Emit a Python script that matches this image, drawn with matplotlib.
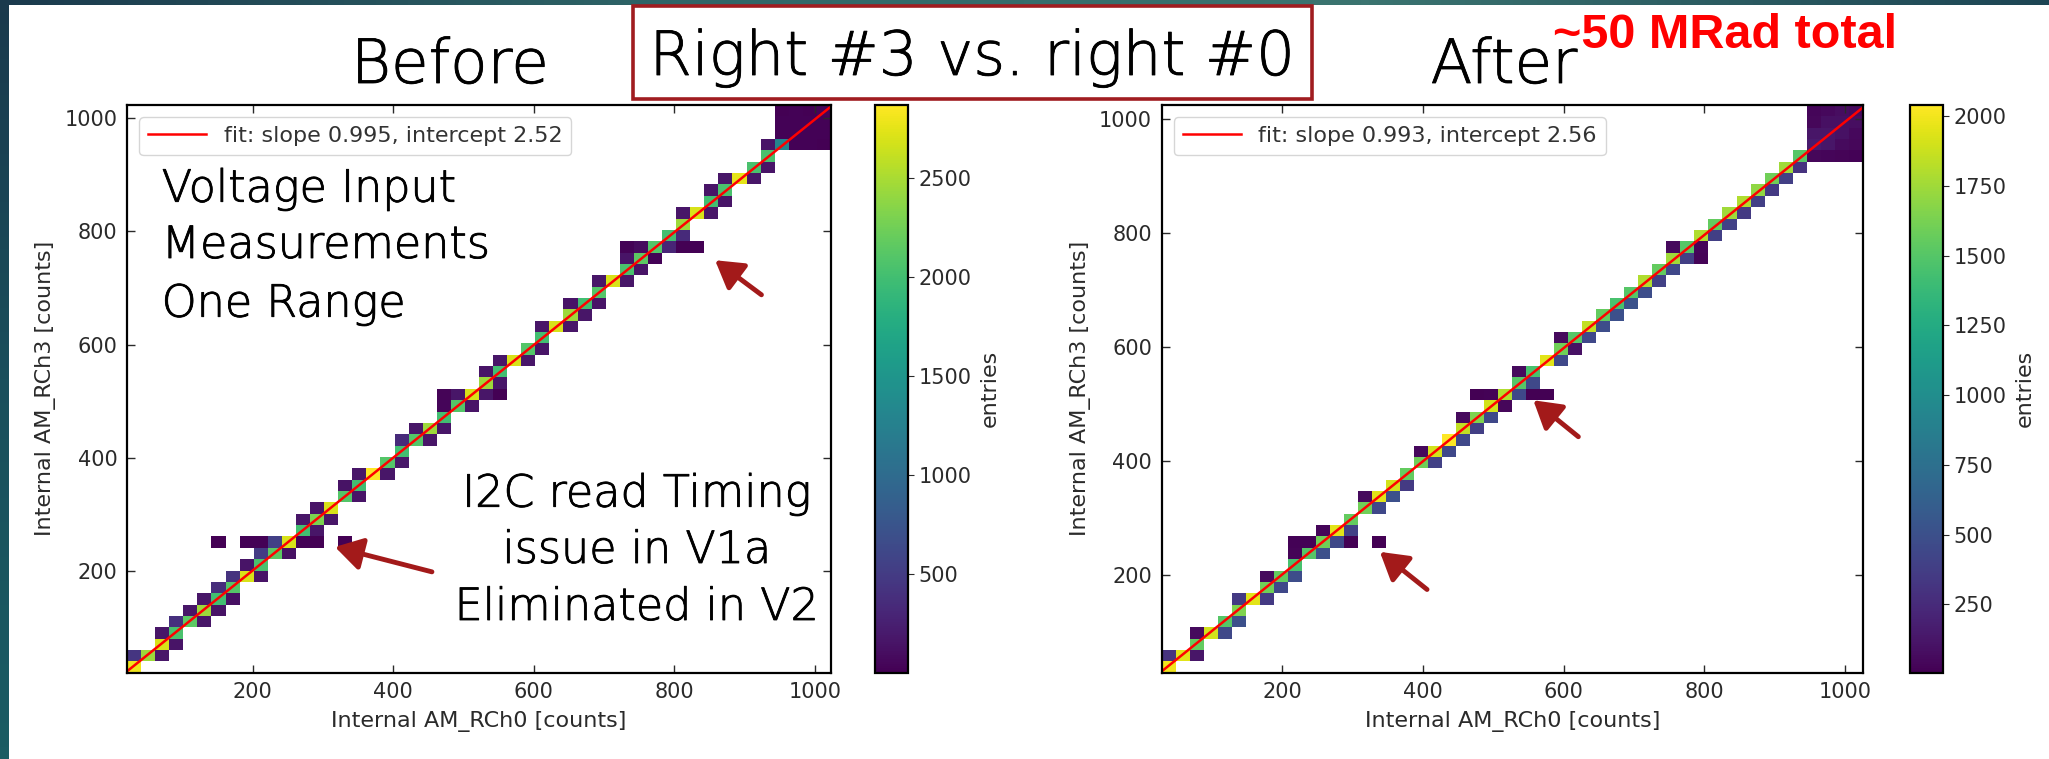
import numpy as np
import matplotlib.pyplot as plt
import matplotlib.patheffects as pe
from matplotlib.colors import LinearSegmentedColormap
from matplotlib.patches import Rectangle
from matplotlib.ticker import MultipleLocator

W, H = 2049, 759

# 50 x 50 bins, counts
n_bins = 50

# ---- Before ----
range_before = (21, 1023)
fit_before = (0.995, 2.52)
# diagonal cells (i, i)
diag_before = [2800, 2450, 2700, 2050, 2150, 2450, 2000, 2100, 2700, 2050,
               2150, 2700, 2000, 2300, 2700, 2100, 2000, 2870, 2100, 2000,
               2100, 2450, 2000, 2100, 2700, 2450, 2000, 2700, 2100, 2000,
               2700, 2450, 2000, 2100, 2700, 2050, 2150, 2100, 2000, 2450,
               2700, 2000, 2050, 2750, 2050, 2050, 1300, 25, 20, 30]
# cell right of the diagonal (i+1, i)
sub_before = [0, 180, 150, 0, 160, 140, 120, 0, 150, 0,
              120, 15, 160, 170, 0, 150, 0, 160, 180, 0,
              170, 160, 0, 150, 170, 160, 0, 160, 150, 0,
              170, 160, 150, 0, 160, 150, 20, 300, 350, 0,
              160, 150, 0, 160, 150, 0, 20, 25, 15]
# cell above the diagonal (i, i+1)
sup_before = [450, 0, 160, 400, 170, 160, 380, 420, 150, 500,
              550, 0, 160, 150, 0, 140, 170, 0, 0, 350,
              160, 0, 40, 170, 0, 150, 160, 0, 0, 170,
              0, 150, 0, 160, 0, 150, 0, 0, 0, 160,
              0, 150, 160, 0, 0, 150, 20, 25, 10]
# stray cells: x bin, y bin, entries
extra_before_x = [6, 8, 9, 13, 15, 22, 26, 35, 36, 39, 40, 48, 49, 49, 46, 46, 47]
extra_before_y = [11, 11, 11, 11, 11, 24, 24, 37, 37, 37, 37, 46, 46, 47, 48, 49, 49]
extra_before_n = [8, 15, 20, 5, 6, 30, 10, 15, 90, 12, 3, 15, 10, 20, 20, 10, 15]

# ---- After ----
range_after = (29, 1025)
fit_after = (0.993, 2.56)
diag_after = [2000, 1950, 1550, 1900, 1500, 1650, 1950, 1600, 1550, 1450,
              1500, 1600, 1950, 1550, 1600, 1950, 1900, 1550, 1600, 1900,
              2040, 1850, 1650, 1900, 1800, 1500, 1450, 1950, 1600, 1500,
              1850, 1550, 1450, 1500, 1800, 1550, 1750, 1500, 1800, 1550,
              1750, 1800, 1700, 1600, 1750, 1500, 150, 120, 90, 60]
sub_after = [0, 120, 0, 450, 500, 0, 350, 450, 480, 0,
             500, 450, 400, 0, 450, 500, 350, 0, 400, 450,
             450, 380, 450, 40, 450, 450, 0, 450, 100, 450,
             480, 500, 520, 480, 400, 450, 380, 350, 380, 400,
             350, 380, 350, 380, 300, 40, 120, 100, 80]
sup_after = [300, 0, 60, 0, 0, 350, 0, 60, 0, 30,
             20, 30, 0, 0, 60, 0, 0, 0, 50, 0,
             0, 60, 0, 0, 0, 60, 0, 0, 60, 0,
             0, 0, 0, 0, 0, 0, 60, 0, 0, 0,
             0, 0, 0, 0, 0, 0, 120, 90, 70]
extra_after_x = [9, 10, 9, 13, 15, 22, 23, 26, 27, 38, 38,
                 47, 48, 49, 48, 49, 49, 46, 46, 47]
extra_after_y = [11, 11, 10, 11, 11, 24, 24, 24, 24, 37, 36,
                 45, 45, 45, 46, 46, 47, 48, 49, 49]
extra_after_n = [20, 15, 25, 8, 6, 10, 15, 10, 5, 30, 25,
                 30, 25, 20, 60, 40, 50, 40, 30, 50]


def fill_counts(diag, sub, sup, ex, ey, en):
    counts = np.zeros((n_bins, n_bins))
    idx = np.arange(n_bins)
    counts[idx, idx] = diag
    counts[idx[1:], idx[:-1]] = sub
    counts[idx[:-1], idx[1:]] = sup
    counts[ex, ey] = en
    return counts


counts_before = fill_counts(diag_before, sub_before, sup_before,
                            extra_before_x, extra_before_y, extra_before_n)
counts_after = fill_counts(diag_after, sub_after, sup_after,
                           extra_after_x, extra_after_y, extra_after_n)

fig = plt.figure(figsize=(W / 100, H / 100), dpi=100)
fig.patch.set_facecolor('white')


def px(x0, y0, x1, y1):
    # pixel box (from top-left) -> figure fraction rect
    return [x0 / W, 1 - y1 / H, (x1 - x0) / W, (y1 - y0) / H]


def draw_panel(ax, cax, counts, rng, fit, step):
    edges = np.linspace(rng[0], rng[1], n_bins + 1)
    mesh = ax.pcolormesh(edges, edges, np.ma.masked_equal(counts.T, 0),
                         cmap='viridis')
    xs = np.array(rng, dtype=float)
    slope, intercept = fit
    ax.plot(xs, slope * xs + intercept, color='red', lw=1.8,
            label=f'fit: slope {slope}, intercept {intercept}')
    ax.set_xlim(rng)
    ax.set_ylim(rng)
    ax.xaxis.set_major_locator(MultipleLocator(200))
    ax.yaxis.set_major_locator(MultipleLocator(200))
    ax.tick_params(direction='in', length=6, width=1, pad=7,
                   labelsize=15, top=True, right=True, colors='#2a2a2a')
    for s in ax.spines.values():
        s.set_linewidth(1.6)
    ax.set_xlabel('Internal AM_RCh0 [counts]', fontsize=16, color='#2a2a2a', labelpad=6)
    ax.set_ylabel('Internal AM_RCh3 [counts]', fontsize=16, color='#2a2a2a', labelpad=6)
    leg = ax.legend(loc='upper left', fontsize=16, handlelength=2.6,
                    borderaxespad=0.55)
    for t in leg.get_texts():
        t.set_color('#333333')
    cb = fig.colorbar(mesh, cax=cax)
    cb.ax.yaxis.set_major_locator(MultipleLocator(step))
    cb.ax.tick_params(labelsize=15, length=4, colors='#2a2a2a')
    cb.outline.set_linewidth(1.6)
    cb.set_label('entries', fontsize=16, color='#2a2a2a', labelpad=6)


ax1 = fig.add_axes(px(127, 105, 831, 672.7))
cax1 = fig.add_axes(px(875, 105, 908, 672.7))
ax2 = fig.add_axes(px(1161.7, 105, 1862.7, 672.7))
cax2 = fig.add_axes(px(1910, 105, 1943, 672.7))

draw_panel(ax1, cax1, counts_before, range_before, fit_before, 500)
draw_panel(ax2, cax2, counts_after, range_after, fit_after, 250)

# slide frame (dark teal bars on left and top)
frame_left = LinearSegmentedColormap.from_list('fl', ['#1b3a4d', '#1a4f5c', '#1b5c63'])
frame_top = LinearSegmentedColormap.from_list('ft', ['#1b3a4d', '#2f6668', '#3b7470', '#1d4554'])
bar = fig.add_axes([0, 0, 9 / W, 1])
bar.imshow(np.linspace(0, 1, 64).reshape(-1, 1), aspect='auto', cmap=frame_left)
bar.axis('off')
bar = fig.add_axes([0, 1 - 5 / H, 1, 5 / H])
bar.imshow(np.linspace(0, 1, 256).reshape(1, -1), aspect='auto', cmap=frame_top)
bar.axis('off')

# thin geometric slide font: light face, slightly thickened
slide_font = dict(family='DejaVu Sans', fontweight='light',
                  path_effects=[pe.withStroke(linewidth=0.6, foreground='black')])

# slide titles
fig.text(450 / W, 1 - 83 / H, 'Before', fontsize=44, ha='center', va='baseline', **slide_font)
fig.text(1504 / W, 1 - 83 / H, 'After', fontsize=44, ha='center', va='baseline', **slide_font)
fig.patches.append(Rectangle((633 / W, 1 - 99 / H), (1311.6 - 633) / W, 93 / H,
                             transform=fig.transFigure, fill=False,
                             edgecolor='#a01c20', lw=2.6))
fig.text(972 / W, 1 - 75 / H, 'Right #3 vs. right #0', fontsize=44,
         ha='center', va='baseline', **slide_font)
fig.text(1725 / W, 1 - 48 / H, '~50 MRad total', fontsize=35, color='#ff0000',
         fontweight='bold', family='Liberation Sans', ha='center', va='baseline')

for line, base in zip(['Voltage Input', 'Measurements', 'One Range'], [201.7, 258, 316.7]):
    fig.text(161.7 / W, 1 - base / H, line, fontsize=32, ha='left', va='baseline', **slide_font)
for line, base in zip(['I2C read Timing', 'issue in V1a', 'Eliminated in V2'], [506.7, 563, 620]):
    fig.text(637 / W, 1 - base / H, line, fontsize=32, ha='center', va='baseline', **slide_font)

# arrows
arrow = dict(arrowstyle='-|>,head_length=0.75,head_width=0.45', color='#a31a1a',
             lw=3.5, mutation_scale=22, shrinkA=0, shrinkB=0)
ax1.annotate('', xy=(858, 749), xytext=(924, 688), arrowprops=arrow, annotation_clip=False)
ax1.annotate('', xy=(317, 243), xytext=(455, 199), arrowprops=arrow, annotation_clip=False)
ax2.annotate('', xy=(557, 507), xytext=(621, 443), arrowprops=arrow, annotation_clip=False)
ax2.annotate('', xy=(339, 241), xytext=(406, 175), arrowprops=arrow, annotation_clip=False)

fig.savefig('out.png', dpi=100)
